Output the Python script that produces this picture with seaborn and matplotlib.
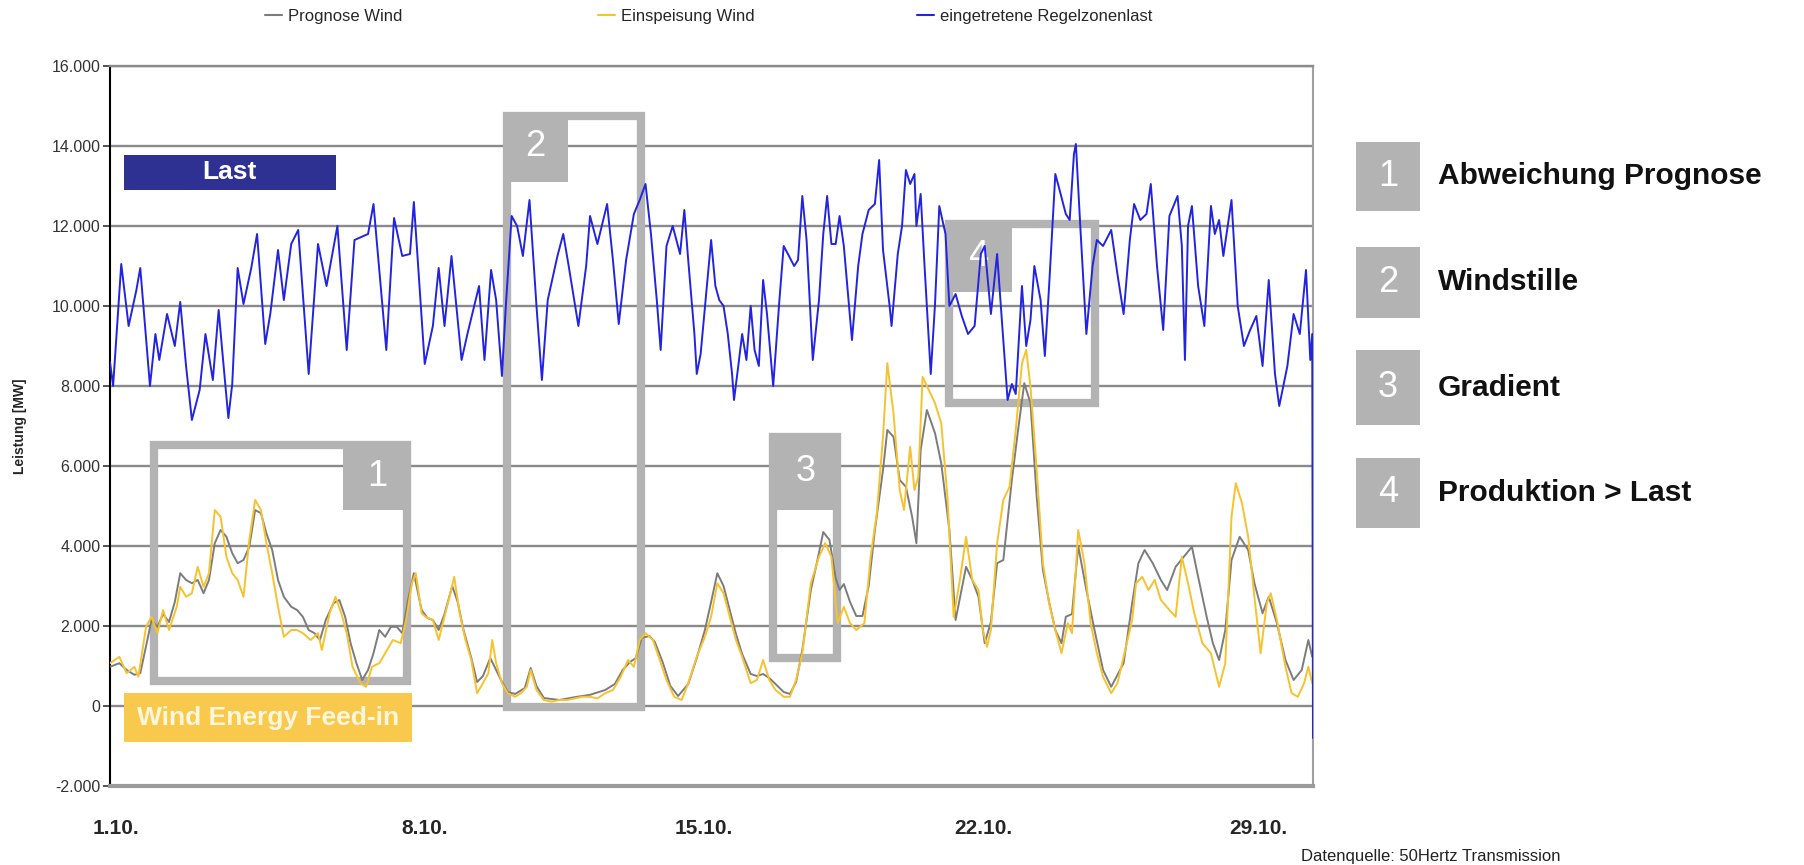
import numpy as np
import pandas as pd
import seaborn as sns
import matplotlib.pyplot as plt
from matplotlib.patches import Rectangle
from matplotlib.lines import Line2D
from matplotlib.ticker import FuncFormatter, MultipleLocator, FixedLocator

# Tage ab 1.10. 00:00, Werte in 1000 MW
last_tag = [
    0.0, 0.08, 0.29, 0.48, 0.68, 0.78, 1.03, 1.17, 1.27, 1.47,
    1.67, 1.81, 1.96, 2.11, 2.31, 2.46, 2.65, 2.80, 2.90, 3.05,
    3.15, 3.29, 3.44, 3.64, 3.79, 4.00, 4.13, 4.33, 4.48, 4.67,
    4.85, 5.12, 5.36, 5.58, 5.86, 6.10, 6.30, 6.65, 6.79, 7.12,
    7.32, 7.53, 7.73, 7.83, 8.11, 8.32, 8.47, 8.62, 8.80, 9.06,
    9.21, 9.51, 9.65, 9.82, 9.95, 10.10, 10.20, 10.35, 10.49, 10.64,
    10.81, 10.99, 11.13, 11.28, 11.53, 11.68, 11.82, 12.07, 12.27, 12.37,
    12.56, 12.81, 12.96, 13.11, 13.30, 13.50, 13.65, 13.80, 13.94, 14.09,
    14.19, 14.34, 14.50, 14.69, 14.80, 14.90, 15.06, 15.12, 15.22, 15.38,
    15.49, 15.60, 15.70, 15.81, 15.92, 16.03, 16.08, 16.19, 16.29, 16.40,
    16.51, 16.61, 16.72, 16.83, 16.93, 17.09, 17.25, 17.36, 17.47, 17.63,
    17.73, 17.84, 17.95, 18.11, 18.27, 18.38, 18.48, 18.59, 18.70, 18.80,
    18.91, 19.12, 19.28, 19.39, 19.55, 19.71, 19.82, 19.92, 20.09, 20.14,
    20.30, 20.41, 20.51, 20.62, 20.73, 20.78, 20.89, 20.99, 21.15, 21.26,
    21.37, 21.53, 21.63, 21.79, 21.95, 22.11, 22.28, 22.44, 22.54, 22.70,
    22.86, 22.97, 23.13, 23.24, 23.34, 23.50, 23.61, 23.72, 23.82, 23.98,
    24.09, 24.20, 24.36, 24.47, 24.63, 24.73, 24.84, 24.89, 25.00, 25.16,
    25.32, 25.43, 25.59, 25.80, 25.96, 26.12, 26.28, 26.39, 26.55, 26.71,
    26.82, 26.98, 27.14, 27.30, 27.51, 27.62, 27.70, 27.78, 27.88, 28.04,
    28.20, 28.37, 28.47, 28.58, 28.69, 28.90, 29.06, 29.22, 29.38, 29.54,
    29.70, 29.86, 30.02, 30.13, 30.34, 30.50, 30.66, 30.82, 30.93, 30.98,
    31.0,
]
last_wert = [
    8.6, 8.0, 11.05, 9.5, 10.4, 10.95, 8.0, 9.3, 8.65, 9.8,
    9.0, 10.1, 8.5, 7.15, 7.9, 9.3, 8.15, 9.9, 8.8, 7.2,
    8.05, 10.95, 10.05, 10.95, 11.8, 9.05, 9.8, 11.4, 10.15, 11.55,
    11.9, 8.3, 11.55, 10.5, 12.0, 8.9, 11.65, 11.8, 12.55, 8.9,
    12.2, 11.25, 11.3, 12.6, 8.55, 9.5, 10.95, 9.5, 11.25, 8.65,
    9.3, 10.5, 8.65, 10.9, 10.15, 8.25, 10.0, 12.25, 12.0, 11.25,
    12.65, 10.0, 8.15, 10.15, 11.25, 11.8, 11.0, 9.5, 11.0, 12.25,
    11.55, 12.55, 11.15, 9.55, 11.15, 12.3, 12.65, 13.05, 11.8, 10.15,
    8.9, 11.5, 12.0, 11.3, 12.4, 11.15, 9.3, 8.3, 8.8, 10.5,
    11.65, 10.5, 10.15, 10.0, 9.3, 8.3, 7.65, 8.5, 9.3, 8.65,
    10.0, 8.9, 8.5, 10.65, 9.8, 8.0, 10.15, 11.5, 11.3, 11.0,
    11.15, 12.75, 11.65, 8.65, 10.15, 11.8, 12.75, 11.55, 11.55, 12.25,
    11.5, 9.15, 11.0, 11.8, 12.4, 12.55, 13.65, 11.4, 10.0, 9.5,
    11.3, 12.0, 13.4, 13.05, 13.3, 12.0, 12.8, 11.0, 8.3, 10.05,
    12.5, 11.8, 10.0, 10.3, 9.75, 9.3, 9.5, 11.3, 11.5, 9.8,
    11.3, 9.8, 7.65, 8.05, 7.8, 10.5, 9.0, 9.65, 11.0, 10.15,
    8.75, 10.5, 13.3, 12.9, 12.3, 12.15, 13.8, 14.05, 12.05, 9.3,
    11.0, 11.65, 11.5, 11.9, 10.8, 9.8, 11.65, 12.55, 12.15, 12.3,
    13.05, 11.0, 9.4, 12.25, 12.75, 11.5, 8.65, 12.0, 12.5, 10.5,
    9.5, 12.5, 11.8, 12.15, 11.25, 12.65, 10.0, 9.0, 9.4, 9.75,
    8.5, 10.65, 8.3, 7.5, 8.5, 9.8, 9.3, 10.9, 8.65, 9.3,
    -0.8,
]

einsp_tag = [
    0.0, 0.24, 0.43, 0.63, 0.73, 0.93, 1.07, 1.22, 1.37, 1.52,
    1.72, 1.81, 1.96, 2.11, 2.26, 2.41, 2.55, 2.70, 2.85, 3.00,
    3.15, 3.29, 3.44, 3.59, 3.74, 3.89, 4.03, 4.18, 4.33, 4.48,
    4.67, 4.82, 4.97, 5.17, 5.36, 5.46, 5.66, 5.81, 5.96, 6.10,
    6.25, 6.45, 6.60, 6.75, 6.94, 7.09, 7.29, 7.49, 7.63, 7.78,
    7.88, 8.03, 8.13, 8.32, 8.47, 8.62, 8.77, 8.87, 9.01, 9.16,
    9.31, 9.46, 9.61, 9.75, 9.85, 9.95, 10.10, 10.25, 10.44, 10.59,
    10.74, 10.84, 10.99, 11.18, 11.38, 11.58, 11.78, 11.97, 12.17, 12.37,
    12.56, 12.76, 12.96, 13.16, 13.35, 13.50, 13.65, 13.80, 13.99, 14.14,
    14.34, 14.54, 14.73, 14.90, 15.12, 15.33, 15.49, 15.65, 15.81, 15.97,
    16.13, 16.29, 16.51, 16.67, 16.83, 16.99, 17.15, 17.36, 17.52, 17.68,
    17.84, 18.06, 18.27, 18.43, 18.59, 18.75, 18.91, 19.07, 19.23, 19.44,
    19.60, 19.76, 19.92, 20.03, 20.19, 20.35, 20.46, 20.62, 20.73, 20.83,
    20.94, 21.10, 21.26, 21.42, 21.58, 21.74, 21.90, 22.06, 22.22, 22.38,
    22.49, 22.60, 22.70, 22.86, 23.02, 23.18, 23.34, 23.50, 23.61, 23.72,
    23.88, 24.04, 24.20, 24.36, 24.52, 24.68, 24.79, 24.95, 25.11, 25.27,
    25.43, 25.59, 25.80, 25.96, 26.12, 26.34, 26.44, 26.60, 26.76, 26.92,
    27.08, 27.30, 27.46, 27.62, 27.78, 27.94, 28.15, 28.37, 28.58, 28.74,
    28.90, 29.01, 29.17, 29.33, 29.49, 29.65, 29.81, 29.91, 30.07, 30.29,
    30.45, 30.61, 30.77, 30.88, 30.98,
]
einsp_wert = [
    1.07, 1.23, 0.82, 0.98, 0.73, 1.98, 2.23, 1.82, 2.4, 1.9,
    2.48, 2.98, 2.73, 2.82, 3.48, 2.98, 3.32, 4.9, 4.73, 3.73,
    3.32, 3.15, 2.73, 4.15, 5.15, 4.9, 4.07, 3.32, 2.48, 1.73,
    1.9, 1.9, 1.82, 1.65, 1.82, 1.4, 2.32, 2.73, 2.32, 1.82,
    0.98, 0.57, 0.48, 0.98, 1.07, 1.32, 1.65, 1.57, 2.15, 3.07,
    3.32, 2.32, 2.23, 2.15, 1.65, 2.23, 2.82, 3.23, 2.32, 1.65,
    1.15, 0.32, 0.57, 0.82, 1.65, 1.07, 0.57, 0.32, 0.23, 0.32,
    0.48, 0.9, 0.4, 0.15, 0.11, 0.15, 0.15, 0.19, 0.23, 0.23,
    0.19, 0.32, 0.4, 0.73, 1.15, 0.98, 1.65, 1.82, 1.65, 1.23,
    0.65, 0.23, 0.15, 0.57, 1.23, 1.73, 2.23, 3.07, 2.82, 2.23,
    1.65, 1.23, 0.57, 0.65, 1.15, 0.65, 0.4, 0.23, 0.23, 0.65,
    1.32, 3.07, 3.73, 4.07, 3.73, 2.07, 2.48, 2.07, 1.9, 2.07,
    3.73, 4.82, 6.73, 8.57, 7.32, 5.4, 4.9, 6.48, 5.4, 5.73,
    8.23, 7.9, 7.57, 7.07, 5.23, 2.23, 3.15, 4.23, 3.15, 2.9,
    1.9, 1.48, 1.9, 4.07, 5.15, 5.48, 6.9, 8.57, 8.9, 7.98,
    5.9, 3.57, 2.57, 1.9, 1.32, 2.07, 1.82, 4.4, 3.57, 2.07,
    1.32, 0.73, 0.32, 0.57, 1.23, 2.15, 3.07, 3.23, 2.9, 3.15,
    2.65, 2.4, 2.23, 3.73, 3.07, 2.32, 1.57, 1.32, 0.48, 1.07,
    4.73, 5.57, 5.07, 4.23, 2.73, 1.32, 2.57, 2.82, 2.15, 0.98,
    0.32, 0.23, 0.57, 0.98, 0.57,
]

prog_tag = [
    0.0, 0.24, 0.43, 0.63, 0.78, 0.93, 1.07, 1.22, 1.37, 1.52,
    1.67, 1.81, 1.96, 2.11, 2.26, 2.41, 2.55, 2.70, 2.85, 3.00,
    3.15, 3.29, 3.44, 3.59, 3.74, 3.89, 4.03, 4.18, 4.33, 4.48,
    4.67, 4.82, 4.97, 5.12, 5.27, 5.41, 5.56, 5.76, 5.91, 6.06,
    6.20, 6.35, 6.50, 6.65, 6.79, 6.94, 7.09, 7.24, 7.39, 7.53,
    7.68, 7.83, 8.03, 8.18, 8.32, 8.47, 8.62, 8.82, 8.96, 9.11,
    9.31, 9.46, 9.61, 9.80, 9.95, 10.10, 10.25, 10.44, 10.69, 10.84,
    10.99, 11.18, 11.58, 11.97, 12.37, 12.76, 13.01, 13.21, 13.40, 13.55,
    13.70, 13.90, 14.04, 14.24, 14.44, 14.64, 14.90, 15.12, 15.33, 15.49,
    15.65, 15.81, 15.97, 16.13, 16.29, 16.51, 16.67, 16.83, 16.99, 17.15,
    17.36, 17.52, 17.68, 17.84, 18.06, 18.22, 18.38, 18.54, 18.70, 18.80,
    18.91, 19.07, 19.23, 19.39, 19.55, 19.71, 19.92, 20.03, 20.19, 20.35,
    20.51, 20.67, 20.78, 20.89, 21.05, 21.26, 21.42, 21.63, 21.79, 22.06,
    22.22, 22.38, 22.54, 22.70, 22.86, 23.02, 23.24, 23.40, 23.56, 23.72,
    23.88, 24.04, 24.20, 24.36, 24.52, 24.63, 24.79, 24.95, 25.16, 25.37,
    25.59, 25.80, 26.12, 26.34, 26.50, 26.66, 26.87, 27.08, 27.24, 27.46,
    27.67, 27.88, 28.04, 28.26, 28.42, 28.58, 28.74, 28.90, 29.11, 29.33,
    29.49, 29.70, 29.86, 30.07, 30.29, 30.50, 30.71, 30.88, 30.98,
]
prog_wert = [
    0.98, 1.07, 0.9, 0.78, 0.82, 1.5, 2.15, 1.98, 2.3, 2.1,
    2.6, 3.32, 3.15, 3.07, 3.15, 2.82, 3.15, 4.07, 4.4, 4.23,
    3.82, 3.57, 3.65, 3.98, 4.9, 4.82, 4.32, 3.9, 3.15, 2.73,
    2.48, 2.4, 2.23, 1.9, 1.82, 1.65, 2.15, 2.57, 2.65, 2.23,
    1.57, 1.07, 0.65, 0.9, 1.32, 1.9, 1.73, 1.98, 1.98, 1.82,
    2.65, 3.32, 2.4, 2.2, 2.15, 1.9, 2.3, 3.0, 2.6, 1.9,
    1.2, 0.6, 0.75, 1.2, 0.9, 0.6, 0.35, 0.3, 0.45, 0.95,
    0.5, 0.2, 0.15, 0.22, 0.28, 0.4, 0.55, 0.9, 1.1, 1.2,
    1.7, 1.75, 1.6, 1.1, 0.5, 0.25, 0.55, 1.2, 1.9, 2.6,
    3.32, 3.0, 2.4, 1.8, 1.3, 0.8, 0.75, 0.8, 0.7, 0.55,
    0.35, 0.3, 0.6, 1.4, 2.9, 3.6, 4.35, 4.15, 3.2, 2.9,
    3.05, 2.6, 2.25, 2.25, 3.0, 4.4, 5.9, 6.9, 6.73, 5.65,
    5.48, 4.73, 4.07, 6.4, 7.4, 6.82, 6.07, 4.4, 2.15, 3.48,
    3.15, 2.73, 1.57, 2.1, 3.57, 3.65, 5.65, 6.9, 8.07, 7.57,
    5.23, 3.4, 2.6, 1.9, 1.57, 2.23, 2.3, 4.0, 2.9, 1.9,
    0.9, 0.48, 1.07, 2.57, 3.57, 3.9, 3.57, 3.15, 2.9, 3.48,
    3.73, 3.98, 3.23, 2.23, 1.57, 1.15, 1.9, 3.65, 4.23, 3.9,
    3.07, 2.32, 2.73, 2.07, 1.15, 0.65, 0.9, 1.65, 1.23,
]

reihen = ["Prognose Wind", "Einspeisung Wind", "eingetretene Regelzonenlast"]
farben = {"Prognose Wind": "#7c7c7c", "Einspeisung Wind": "#f6c22e",
          "eingetretene Regelzonenlast": "#2323e2"}

datum_pos = [0.15, 8.1, 15.3, 22.5, 29.6]
datum_text = ["1.10.", "8.10.", "15.10.", "22.10.", "29.10."]

# markierte Bereiche: Rahmen (x0, x1, y0, y1) und Nummernfeld
rahmen_nr = ["1", "2", "3", "4"]
rahmen = [(1.13, 7.65, 630, 6530), (10.23, 13.69, -30, 14750),
          (17.09, 18.74, 1200, 6720), (21.62, 25.39, 7580, 12050)]
felder = [(6.0, 7.76, 4900, 6600), (10.13, 11.8, 13100, 14850),
          (17.03, 18.8, 4900, 6830), (21.52, 23.25, 10350, 12150)]
erklaerung = ["Abweichung Prognose", "Windstille", "Gradient", "Produktion > Last"]

df = pd.concat([
    pd.DataFrame({"tag": prog_tag, "mw": np.array(prog_wert) * 1000, "reihe": reihen[0]}),
    pd.DataFrame({"tag": einsp_tag, "mw": np.array(einsp_wert) * 1000, "reihe": reihen[1]}),
    pd.DataFrame({"tag": last_tag, "mw": np.array(last_wert) * 1000, "reihe": reihen[2]}),
])

sns.set_style("white")
plt.rcParams["font.family"] = ["Liberation Sans", "DejaVu Sans"]

fig = plt.figure(figsize=(18.04, 8.65), dpi=100)
ax = fig.add_axes([110 / 1804, 79 / 865, 1203 / 1804, 720 / 865])

grau = "#b3b3b3"
for (x0, x1, y0, y1), (fx0, fx1, fy0, fy1), nr in zip(rahmen, felder, rahmen_nr):
    ax.add_patch(Rectangle((x0, y0), x1 - x0, y1 - y0, fill=False,
                           edgecolor=grau, lw=6, zorder=1.5))
    ax.add_patch(Rectangle((fx0, fy0), fx1 - fx0, fy1 - fy0, facecolor=grau,
                           edgecolor="none", zorder=1.6))
    ax.text((fx0 + fx1) / 2, (fy0 + fy1) / 2, nr, color="white", fontsize=26,
            ha="center", va="center", zorder=1.7)

sns.lineplot(data=df, x="tag", y="mw", hue="reihe", hue_order=reihen,
             palette=farben, estimator=None, sort=False, lw=1.4,
             legend=False, ax=ax, zorder=3)

# Beschriftungsfelder im Diagramm
ax.add_patch(Rectangle((0.36, 12900), 5.46, 880, facecolor="#2e3192",
                       edgecolor="none", zorder=4))
ax.text(3.09, 13340, "Last", color="white", fontsize=19, fontweight="bold",
        ha="center", va="center", zorder=5)
ax.add_patch(Rectangle((0.36, -900), 7.43, 1230, facecolor="#f8c94c",
                       edgecolor="none", zorder=4))
ax.text(4.07, -290, "Wind Energy Feed-in", color="#fff6dc", fontsize=19,
        fontweight="bold", ha="center", va="center", zorder=5)

ax.set_xlim(0, 31)
ax.set_ylim(-2000, 16000)
ax.yaxis.set_major_locator(MultipleLocator(2000))
ax.yaxis.set_major_formatter(FuncFormatter(lambda v, p: f"{v:,.0f}".replace(",", ".")))
ax.grid(axis="y", color="#8a8a8a", lw=1.7, zorder=0)
ax.set_axisbelow(True)

ax.xaxis.set_minor_locator(MultipleLocator(1))
ax.xaxis.set_major_locator(FixedLocator(datum_pos))
ax.set_xticklabels(datum_text)
ax.tick_params(axis="x", which="major", length=0, pad=24, labelsize=15)
ax.tick_params(axis="x", which="minor", length=6, width=1.2, direction="out",
               color="#333333")
ax.tick_params(axis="y", length=5, width=1.2, color="#333333", labelsize=11.5,
               labelcolor="#333333", pad=2, left=True)
for t in ax.get_xticklabels():
    t.set_fontweight("bold")

ax.set_xlabel(None)
ax.set_ylabel("Leistung [MW]", fontsize=10, fontweight="bold")
ax.yaxis.set_label_coords(-0.069, 0.5)

ax.spines["left"].set_color("black")
ax.spines["left"].set_linewidth(1.5)
ax.spines["bottom"].set_color("#9a9a9a")
ax.spines["bottom"].set_linewidth(3)
ax.spines["top"].set_color("#8a8a8a")
ax.spines["top"].set_linewidth(1.7)
ax.spines["right"].set_color("#a0a0a0")
ax.spines["right"].set_linewidth(1.5)

# Legende oben
for reihe, x in zip(reihen, [265, 598, 917]):
    h = Line2D([], [], color=farben[reihe], lw=1.5)
    fig.legend([h], [reihe], loc="center left", bbox_to_anchor=(x / 1804, 1 - 16 / 865),
               frameon=False, fontsize=12, handlelength=1.0, handletextpad=0.4,
               borderpad=0, borderaxespad=0)

# Erklaerung rechts
for nr, text, (y0, y1) in zip(rahmen_nr, erklaerung,
                              [(142, 211), (247, 318), (350, 425), (458, 528)]):
    fig.patches.append(Rectangle((1356 / 1804, 1 - y1 / 865), 64 / 1804, (y1 - y0) / 865,
                                 transform=fig.transFigure, facecolor=grau,
                                 edgecolor="none", figure=fig))
    fig.text(1388 / 1804, 1 - (y0 + y1) / 2 / 865, nr, color="white", fontsize=26,
             ha="center", va="center")
    fig.text(1438 / 1804, 1 - (y0 + y1) / 2 / 865, text, fontsize=21.5,
             fontweight="bold", ha="left", va="center", color="#111111")

fig.text(1301 / 1804, 1 - 857 / 865, "Datenquelle: 50Hertz Transmission",
         fontsize=12, ha="left", va="center", color="#222222")

plt.savefig("out.png", dpi=100)
